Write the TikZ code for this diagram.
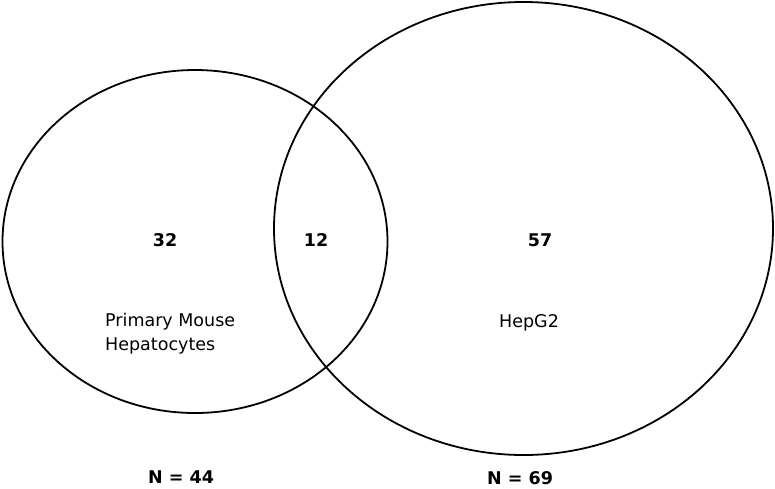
\documentclass[tikz,border=0pt]{standalone}
\usepackage{fontspec}
\setmainfont{DejaVu Sans}
\tikzset{
  setline/.style = {draw, line width = 1.8pt},
  num/.style = {font = \fontsize{17.5}{20}\selectfont\bfseries},
  setname/.style = {font = \fontsize{17.5}{24}\selectfont, align = left, inner sep = 0pt}
}
\begin{document}
\begin{tikzpicture}[x = 1pt, y = -1pt]
        \useasboundingbox (0, 0) rectangle (775, 488);
        % the two sets
        \draw[setline] (195, 241.5) ellipse (192.5 and 171.5);
        \draw[setline] (523.5, 228.5) ellipse (249.5 and 226.5);
        % counts
        \node[num] (mouse) at (165, 240) {32};
        \node[num] (both) at (316, 240) {12};
        \node[num] (hep) at (540, 240) {57};
        % names
        \node[setname, anchor = west] (mousename) at (105, 334) {Primary Mouse\\Hepatocytes};
        \node[setname, anchor = west] (hepname) at (499, 323) {HepG2};
        % totals
        \node[num] (mousen) at (181, 477) {N = 44};
        \node[num] (hepn) at (520, 478) {N = 69};
    \end{tikzpicture}
\end{document}
